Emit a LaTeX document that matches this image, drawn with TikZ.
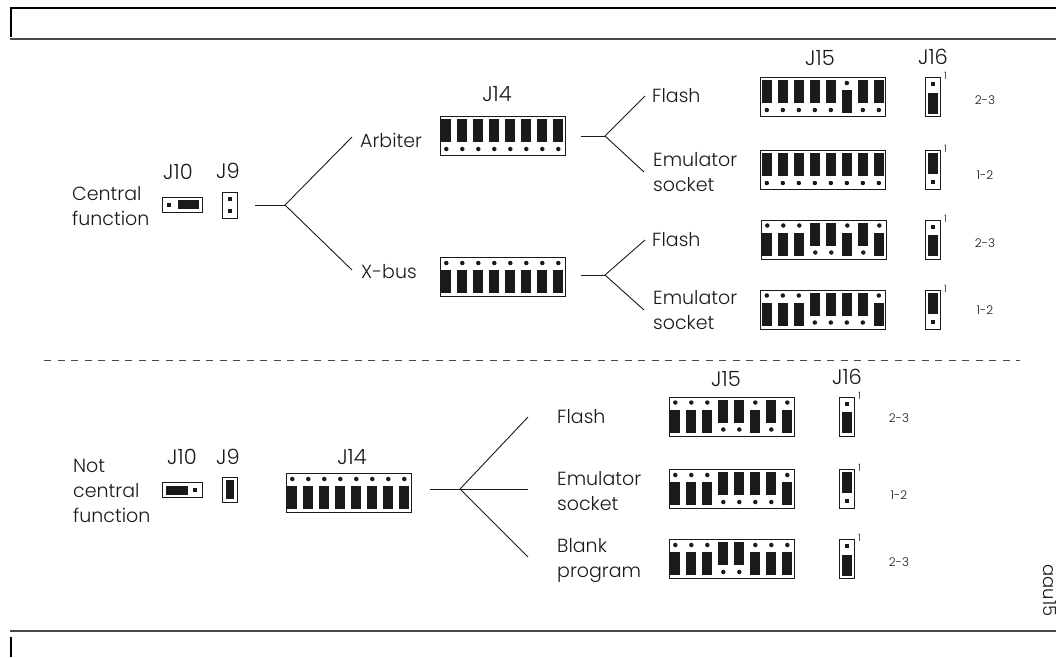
\documentclass[tikz,border=0pt]{standalone}
\usepackage{fontspec}
\setmainfont{Poppins}[UprightFont=* Light]
\usetikzlibrary{positioning}
\definecolor{inkblk}{HTML}{1A1A1A}
\definecolor{rulegray}{HTML}{4A4A4A}

\begin{document}
\begin{tikzpicture}[
  x=1pt, y=-1pt,
  ruletop/.style={line width=2pt, draw=black},
  rulel/.style={line width=1.8pt, draw=rulegray},
  wire/.style={line width=0.9pt, draw=inkblk},
  lbl/.style={font=\fontsize{19}{25}\selectfont, text=inkblk, align=left, anchor=west, inner sep=0pt, inner xsep=7pt},
  jname/.style={font=\fontsize{21}{24}\selectfont, text=inkblk, inner sep=0pt},
  small/.style={font=\fontsize{12}{14}\selectfont, text=inkblk, inner sep=0pt},
  dip/.style={draw=inkblk, line width=1pt, minimum width=125pt, minimum height=39pt, anchor=north west, inner sep=0pt},
  bar/.style={fill=inkblk, draw=none, minimum width=10pt, minimum height=#1, inner sep=0pt},
  pin/.style={fill=inkblk, draw=none, circle, minimum size=4.5pt, inner sep=0pt},
  sqpin/.style={fill=inkblk, draw=none, minimum size=4pt, inner sep=0pt},
  vjmp/.style={draw=inkblk, line width=1pt, minimum width=15pt, minimum height=39pt, anchor=north west, inner sep=0pt},
]
\useasboundingbox (0,0) rectangle (1056,657);

% Frame rules
\coordinate (ftl) at (10.5,8);
\coordinate (ftr) at (1056,8);
\coordinate (fme) at (10.5,37);
\coordinate (fml) at (10,39);
\coordinate (fmr) at (1056,39);
\coordinate (fbl) at (10,631);
\coordinate (fbr) at (1056,631);
\coordinate (fbs) at (10.5,637);
\coordinate (fbe) at (10.5,657);
\draw[ruletop] (ftr) -- (ftl) -- (fme);
\draw[rulel] (fml) -- (fmr);
\draw[rulel] (fbl) -- (fbr);
\draw[ruletop] (fbs) -- (fbe);

% Divider
\coordinate (dl) at (44,360.5);
\coordinate (dr) at (1020,360.5);
\draw[line width=1.3pt, draw=rulegray, dash pattern=on 7pt off 6.5pt] (dl) -- (dr);

% DIP blocks: 0 = bar at top, 1 = bar at bottom
\foreach \nm/\bx/\by/\pat in {
  jfa/439.5/116/{0,0,0,0,0,0,0,0},
  jfb/439.5/257/{1,1,1,1,1,1,1,1},
  jfc/285.5/473/{1,1,1,1,1,1,1,1},
  kfa/760/77/{0,0,0,0,0,1,0,0},
  kfb/760/150/{0,0,0,0,0,0,0,0},
  kfc/760.5/219.5/{1,1,1,0,0,1,0,1},
  kfd/760/289.5/{1,1,1,0,0,0,0,1},
  kfe/668.5/396.5/{1,1,1,0,0,1,0,1},
  kff/668.5/469/{1,1,1,0,0,0,0,1},
  kfg/668.5/539/{1,1,1,0,0,1,1,1}} {
  \node[dip] (\nm) at (\bx,\by) {};
  \foreach \s [count=\i] in \pat {
    \pgfmathsetmacro{\cx}{\bx+6.8+16*(\i-1)}
    \pgfmathsetmacro{\barY}{\by+14.5+10*\s}
    \pgfmathsetmacro{\pinY}{\by+33-27*\s}
    \node[bar=23pt] at (\cx,\barY) {};
    \node[pin] at (\cx,\pinY) {};
  }
}

% J16 jumpers: 0 = 1-2, 1 = 2-3
\foreach \nm/\bx/\by/\s/\txt/\tx/\ty in {
  ma/925/77/1/2-3/985/100,
  mb/925/150/0/1-2/985/175,
  mc/925/219.5/1/2-3/985/243,
  md/925/290/0/1-2/985/310.5,
  me/839/396.5/1/2-3/899/418,
  mf/839/469/0/1-2/899/495,
  mg/839/539/1/2-3/899/562} {
  \node[vjmp] (\nm) at (\bx,\by) {};
  \pgfmathsetmacro{\cx}{\bx+7.5}
  \pgfmathsetmacro{\barY}{\by+13.5+12.5*\s}
  \pgfmathsetmacro{\pinY}{\by+32-25*\s}
  \node[bar=21pt] at (\cx,\barY) {};
  \node[sqpin] at (\cx,\pinY) {};
  \node[small, font=\fontsize{10}{12}\selectfont, above right=-3pt and 3pt of \nm.north east] (\nm one) {1};
  \node[small] (\nm txt) at (\tx,\ty) {\txt};
}

% Connector names
\node[jname] (nja) at (497,94) {J14};
\node[jname] (njb) at (352,457) {J14};
\node[jname] (nka) at (820,58) {J15};
\node[jname] (nkb) at (726,379) {J15};
\node[jname] (nma) at (933,57) {J16};
\node[jname] (nmb) at (847,377) {J16};
\node[jname] (nta) at (178,172) {J10};
\node[jname] (ntb) at (182,457) {J10};
\node[jname] (nna) at (228,171) {J9};
\node[jname] (nnb) at (228,457) {J9};

% Central function
\node[lbl] (cf) at (65,206) {Central\\function};
\node[draw=inkblk, line width=1pt, minimum width=40pt, minimum height=15pt, inner sep=0pt] (ta) at (182,204.5) {};
\node[sqpin] (tap) at (169,204.5) {};
\node[fill=inkblk, minimum width=21pt, minimum height=9pt, inner sep=0pt] (tab) at (188.5,204.5) {};
\node[draw=inkblk, line width=1pt, minimum width=15pt, minimum height=26pt, inner sep=0pt] (na) at (229.5,205) {};
\node[sqpin] (nap) at (229.5,199) {};
\node[sqpin] (naq) at (229.5,211) {};

% Not central function
\node[lbl] (ncf) at (66,491) {Not\\central\\function};
\node[draw=inkblk, line width=1pt, minimum width=40pt, minimum height=15pt, inner sep=0pt] (tb) at (182.5,490) {};
\node[fill=inkblk, minimum width=22pt, minimum height=9pt, inner sep=0pt] (tbb) at (177,490) {};
\node[sqpin] (tbp) at (195,490) {};
\node[draw=inkblk, line width=1pt, minimum width=15pt, minimum height=25pt, inner sep=0pt] (nb) at (229.5,489.5) {};
\node[fill=inkblk, minimum width=8pt, minimum height=19pt, inner sep=0pt] (nbb) at (229.5,489.5) {};

% Branch labels
\node[lbl, inner xsep=8pt] (arb) at (352,140) {Arbiter};
\node[lbl, inner xsep=9pt] (xbus) at (352,272) {X-bus};
\node[lbl] (fla) at (645,96) {Flash};
\node[lbl, inner xsep=9pt] (ema) at (644,172) {Emulator\\socket};
\node[lbl] (flb) at (645,240) {Flash};
\node[lbl, inner xsep=9pt] (emb) at (644,310) {Emulator\\socket};
\node[lbl, inner xsep=29pt] (flc) at (528,417) {Flash};
\node[lbl, inner xsep=29pt] (emc) at (528,491) {Emulator\\socket};
\node[lbl, inner xsep=29pt] (blk) at (528,561) {Blank\\program};

% Trees
\coordinate (sa) at (255,205);
\coordinate (ba) at (285,205);
\draw[wire] (sa) -- (ba);
\draw[wire] (ba) -- ([yshift=3pt]arb.west);
\draw[wire] (ba) -- ([yshift=2pt]xbus.west);

\coordinate (sb) at (581,136);
\coordinate (bb) at (605,136);
\draw[wire] (sb) -- (bb);
\draw[wire] (bb) -- (fla.west);
\draw[wire] (bb) -- (ema.west);

\coordinate (sc) at (581,275);
\coordinate (bc) at (605,275);
\draw[wire] (sc) -- (bc);
\draw[wire] (bc) -- (flb.west);
\draw[wire] (bc) -- (emb.west);

\coordinate (sd) at (430,489);
\coordinate (bd) at (460,489);
\draw[wire] (sd) -- (bd);
\draw[wire] (bd) -- (flc.west);
\draw[wire] (bd) -- (bd -| emc.west);
\draw[wire] (bd) -- ([yshift=4pt]blk.west);

% Drawing number
\node[font=\fontsize{18}{20}\selectfont, text=inkblk, inner sep=0pt, rotate=-90] (dnum) at (1050,590.5) {aau15};

\end{tikzpicture}
\end{document}
